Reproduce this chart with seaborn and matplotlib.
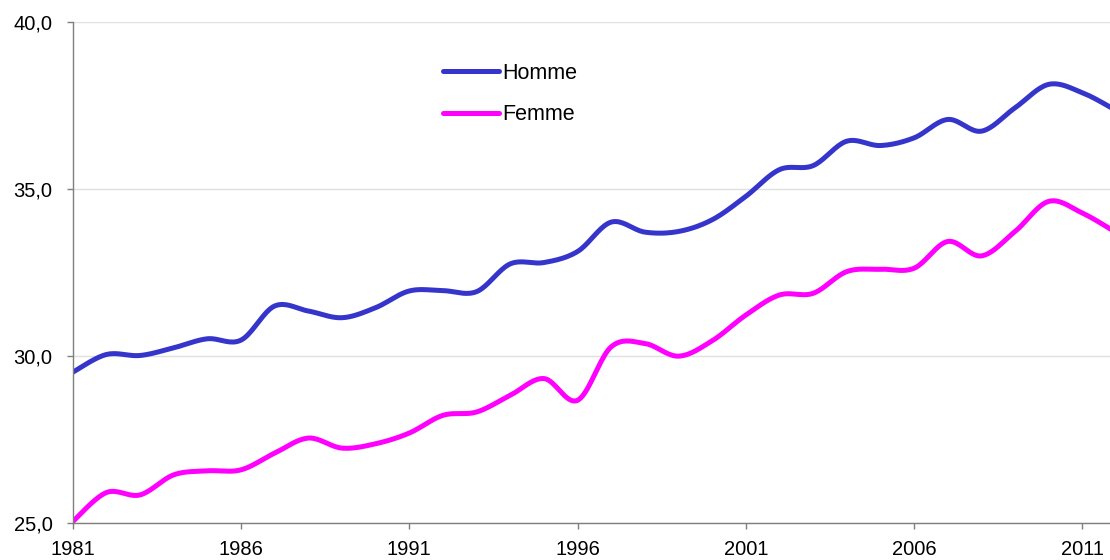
import numpy as np
import pandas as pd
import seaborn as sns
import matplotlib
matplotlib.use("Agg")
import matplotlib.pyplot as plt
from matplotlib.ticker import FuncFormatter

# valeurs
years = list(range(1981, 2013))
homme = [29.52, 30.05, 30.02, 30.25, 30.52, 30.48, 31.50, 31.35, 31.15, 31.45,
         31.95, 31.96, 31.93, 32.76, 32.80, 33.13, 34.01, 33.71, 33.73, 34.08,
         34.78, 35.58, 35.70, 36.43, 36.30, 36.53, 37.08, 36.73, 37.43, 38.13,
         37.88, 37.35]
femme = [25.05, 25.92, 25.85, 26.45, 26.57, 26.60, 27.10, 27.55, 27.25, 27.38,
         27.70, 28.23, 28.33, 28.83, 29.33, 28.68, 30.28, 30.38, 30.00, 30.46,
         31.23, 31.83, 31.88, 32.53, 32.60, 32.63, 33.43, 33.00, 33.73, 34.63,
         34.28, 33.70]
series_names = ["Homme", "Femme"]
colors = ["#3535CC", "#FF00FF"]
y_ticks = [25, 30, 35, 40]
x_ticks = [1981, 1986, 1991, 1996, 2001, 2006, 2011]


def smooth(x, y, n=20):
    # courbe lissée type Excel (Catmull-Rom), passe par chaque point
    x = np.asarray(x, float)
    y = np.asarray(y, float)
    px = np.concatenate([[x[0]], x, [x[-1]]])
    py = np.concatenate([[y[0]], y, [y[-1]]])
    xs, ys = [], []
    t = np.linspace(0, 1, n, endpoint=False)
    for i in range(1, len(px) - 2):
        for p, out in ((px, xs), (py, ys)):
            p0, p1, p2, p3 = p[i - 1], p[i], p[i + 1], p[i + 2]
            out.extend(0.5 * (2 * p1 + (-p0 + p2) * t
                              + (2 * p0 - 5 * p1 + 4 * p2 - p3) * t ** 2
                              + (-p0 + 3 * p1 - 3 * p2 + p3) * t ** 3))
    xs.append(x[-1])
    ys.append(y[-1])
    return xs, ys


rows = []
for name, vals in zip(series_names, [homme, femme]):
    sx, sy = smooth(years, vals)
    rows.append(pd.DataFrame({"annee": sx, "age": sy, "sexe": name}))
df = pd.concat(rows, ignore_index=True)

sns.set_style("white")
plt.rcParams["font.family"] = ["Liberation Sans", "DejaVu Sans"]

fig = plt.figure(figsize=(11.1, 5.6), dpi=100)
ax = fig.add_axes([0.0655, 0.0655, 0.9345, 0.8955])

sns.lineplot(data=df, x="annee", y="age", hue="sexe", palette=colors,
             hue_order=series_names, estimator=None, sort=False,
             linewidth=3.6, ax=ax, solid_capstyle="round")

ax.set_xlim(1981, 2011.82)
ax.set_ylim(25, 40)
ax.set_xticks(x_ticks)
ax.set_yticks(y_ticks)
ax.yaxis.set_major_formatter(FuncFormatter(lambda v, p: f"{v:.1f}".replace(".", ",")))
ax.set_xlabel("")
ax.set_ylabel("")

ax.grid(axis="y", color="#E0E0E0", linewidth=1.0)
ax.set_axisbelow(True)
for side in ["top", "right"]:
    ax.spines[side].set_visible(False)
for side in ["left", "bottom"]:
    ax.spines[side].set_color("#7F7F7F")
    ax.spines[side].set_linewidth(1.0)
ax.tick_params(axis="y", which="both", left=True, length=4.5, width=1.0,
               color="#7F7F7F", pad=10, labelsize=14.5, labelcolor="black")
ax.tick_params(axis="x", which="both", bottom=True, length=4.5, width=1.0,
               color="#7F7F7F", pad=7.5, labelsize=14.5, labelcolor="black")

leg = ax.legend(loc="upper left", bbox_to_anchor=(0.357, 0.918), frameon=False,
                fontsize=15.5, handlelength=2.6, handletextpad=0.15,
                labelspacing=0.95, borderpad=0, borderaxespad=0)
for line in leg.get_lines():
    line.set_linewidth(3.6)
for txt in leg.get_texts():
    txt.set_color("black")

fig.savefig("out.png", dpi=100)
